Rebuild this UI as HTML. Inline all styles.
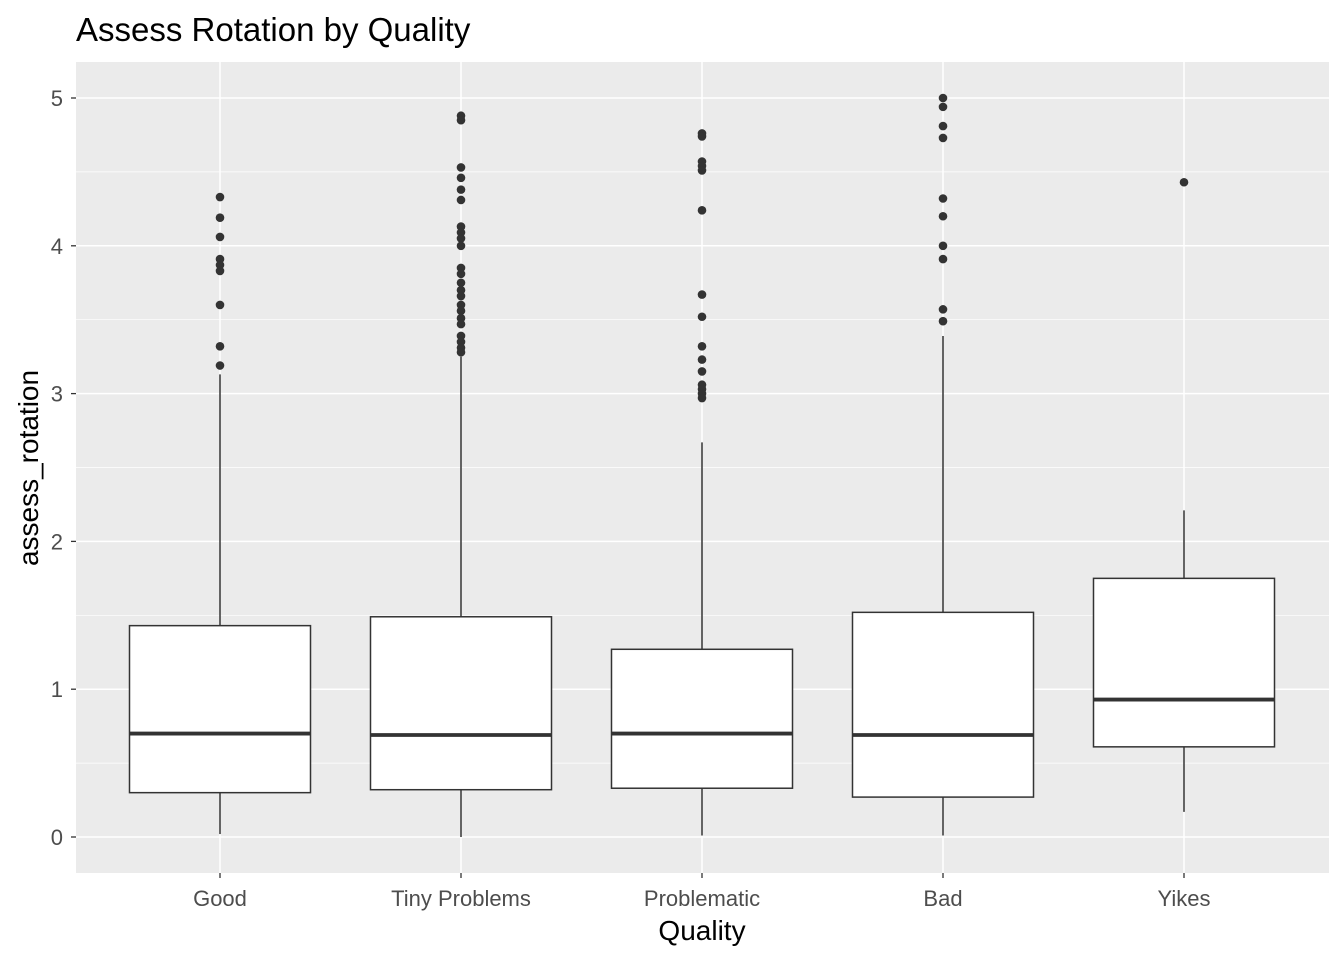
<!DOCTYPE html>
<html><head><meta charset="utf-8"><style>
body{margin:0;background:#fff;}
svg{display:block;font-family:"Liberation Sans",Arial,sans-serif;}
</style></head><body>
<svg id="chart" width="1344" height="960">
<text x="76" y="41" font-size="33" fill="#000">Assess Rotation by Quality</text>
<rect x="76" y="62" width="1253" height="811" fill="#ebebeb"/>
<g id="grid"></g><g id="marks"></g><g id="axes"></g>
<text x="702" y="940" font-size="28" text-anchor="middle" fill="#000">Quality</text>
<text transform="translate(38,468) rotate(-90)" font-size="28" text-anchor="middle" fill="#000">assess_rotation</text>
</svg>
<script>
const categories=["Good","Tiny Problems","Problematic","Bad","Yikes"];
const lowWhisker=[0.02,0.0,0.01,0.01,0.17];
const q1=[0.30,0.32,0.33,0.27,0.61];
const medians=[0.70,0.69,0.70,0.69,0.93];
const q3=[1.43,1.49,1.27,1.52,1.75];
const highWhisker=[3.13,3.25,2.67,3.39,2.21];
const outliers=[
[4.33,4.19,4.06,3.91,3.87,3.83,3.60,3.32,3.19],
[4.88,4.85,4.53,4.46,4.38,4.31,4.13,4.09,4.05,4.00,3.85,3.81,3.75,3.70,3.66,3.60,3.56,3.51,3.47,3.39,3.35,3.31,3.28],
[4.76,4.74,4.57,4.54,4.51,4.24,3.67,3.52,3.32,3.23,3.15,3.06,3.03,3.00,2.97],
[5.0,4.94,4.81,4.73,4.32,4.20,4.00,3.91,3.57,3.49],
[4.43]];
const yTicks=[0,1,2,3,4,5];
const NS="http://www.w3.org/2000/svg";
const y=v=>837-v*147.8;
const x=i=>220+i*241;
const bw=181;
function mk(tag,attrs,parent){const e=document.createElementNS(NS,tag);for(const k in attrs)e.setAttribute(k,attrs[k]);document.getElementById(parent).appendChild(e);return e;}
for(let i=0;i<yTicks.length-1;i++){const e=mk('line',{x1:76,x2:1329,y1:y(yTicks[i]+0.5),y2:y(yTicks[i]+0.5),stroke:'#fff','stroke-width':0.7},'grid');

}
yTicks.forEach(t=>{const e=mk('line',{x1:76,x2:1329,y1:y(t),y2:y(t),stroke:'#fff','stroke-width':1.5},'grid');


const tk=mk('line',{x1:71,x2:76,y1:y(t),y2:y(t),stroke:'#333','stroke-width':1.3},'axes');


const l=mk('text',{x:63,y:y(t)+8,'font-size':22,'text-anchor':'end',fill:'#4d4d4d'},'axes');l.textContent=t;

});
categories.forEach((c,i)=>{const cx=x(i);
const g=mk('line',{x1:cx,x2:cx,y1:62,y2:873,stroke:'#fff','stroke-width':1.5},'grid');


const tk=mk('line',{x1:cx,x2:cx,y1:873,y2:878,stroke:'#333','stroke-width':1.3},'axes');


const l=mk('text',{x:cx,y:906,'font-size':22,'text-anchor':'middle',fill:'#4d4d4d'},'axes');l.textContent=c;


const w1=mk('line',{x1:cx,x2:cx,y1:y(highWhisker[i]),y2:y(q3[i]),stroke:'#333','stroke-width':1.5},'marks');


const w2=mk('line',{x1:cx,x2:cx,y1:y(q1[i]),y2:y(lowWhisker[i]),stroke:'#333','stroke-width':1.5},'marks');


const b=mk('rect',{x:cx-bw/2,y:y(q3[i]),width:bw,height:y(q1[i])-y(q3[i]),fill:'#fff',stroke:'#333','stroke-width':1.5},'marks');


const m=mk('line',{x1:cx-bw/2,x2:cx+bw/2,y1:y(medians[i]),y2:y(medians[i]),stroke:'#333','stroke-width':3.8},'marks');


outliers[i].forEach(v=>{const p=mk('circle',{cx:cx,cy:y(v),r:4.3,fill:'#333'},'marks');

});
});
</script>
</body></html>
